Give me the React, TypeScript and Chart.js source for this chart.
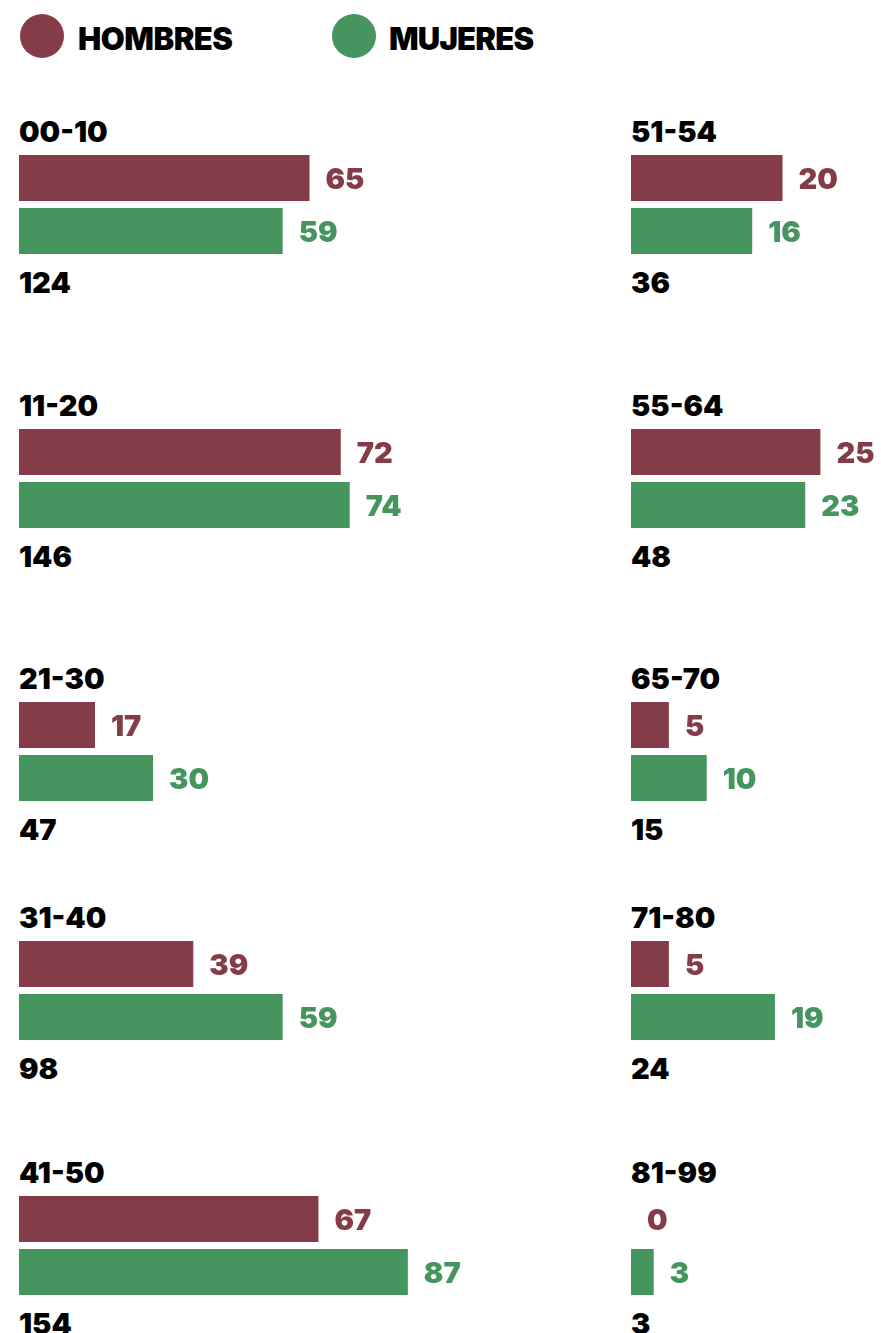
import React, { useEffect, useRef } from "react";
import { Chart, registerables } from "chart.js";

Chart.register(...registerables);

// ---------- data ----------
const leftGroups = ["00-10", "11-20", "21-30", "31-40", "41-50"];
const rightGroups = ["51-54", "55-64", "65-70", "71-80", "81-99"];
const hombresLeft = [65, 72, 17, 39, 67];
const mujeresLeft = [59, 74, 30, 59, 87];
const totalsLeft = [124, 146, 47, 98, 154];
const hombresRight = [20, 25, 5, 5, 0];
const mujeresRight = [16, 23, 10, 19, 3];
const totalsRight = [36, 48, 15, 24, 3];
const seriesNames = ["HOMBRES", "MUJERES"];

// ---------- style / layout ----------
const MAROON = "#843d48";
const GREEN = "#46955f";
const FONT = "Inter, Lato, 'Noto Sans', sans-serif";
const rowBarTop = [155, 429, 702, 941, 1196];
const LEFT_X = 19;
const RIGHT_X = 631;
const LEFT_W = 581;
const RIGHT_W = 250;
const LEFT_MAX = 130;
const RIGHT_MAX = 33;
const CANVAS_H = 107;
const TEXT_SIZE = 29;

const valueLabelPlugin = {
  id: "valueLabels",
  afterDatasetsDraw(chart: any) {
    const ctx = chart.ctx;
    const ds = chart.data.datasets[0];
    const meta = chart.getDatasetMeta(0);
    meta.data.forEach((el: any, i: number) => {
      ctx.save();
      ctx.font = `900 ${TEXT_SIZE}px ${FONT}`;
      ctx.fillStyle = ds.backgroundColor[i];
      ctx.textAlign = "left";
      ctx.textBaseline = "alphabetic";
      ctx.fillText(String(ds.data[i]), el.x + 16, el.y + 11);
      ctx.restore();
    });
  },
};

function GroupBars(props: { h: number; m: number; max: number; width: number; left: number; top: number }) {
  const { h, m, max, width, left, top } = props;
  const ref = useRef<HTMLCanvasElement | null>(null);
  useEffect(() => {
    if (!ref.current) return;
    const chart = new Chart(ref.current, {
      type: "bar",
      data: {
        labels: seriesNames,
        datasets: [
          {
            data: [h, m],
            backgroundColor: [MAROON, GREEN],
            barThickness: 46,
            borderWidth: 0,
            inflateAmount: 0,
          },
        ],
      },
      options: {
        indexAxis: "y",
        responsive: false,
        animation: false,
        events: [],
        layout: { padding: { top: 0.5, bottom: 0.5, left: 0, right: 0 } },
        plugins: { legend: { display: false }, tooltip: { enabled: false } },
        scales: {
          x: { display: false, min: 0, max },
          y: { display: false },
        },
      },
      plugins: [valueLabelPlugin],
    } as any);
    return () => chart.destroy();
  }, [h, m, max, width]);
  return (
    <canvas
      ref={ref}
      width={width}
      height={CANVAS_H}
      style={{ position: "absolute", left, top, width, height: CANVAS_H }}
    />
  );
}

const textStyle = (left: number, top: number, size = TEXT_SIZE, spacing = 0): React.CSSProperties => ({
  position: "absolute",
  left,
  top,
  fontFamily: FONT,
  fontWeight: 900,
  fontSize: size,
  lineHeight: `${size}px`,
  letterSpacing: spacing,
  color: "#000",
  whiteSpace: "nowrap",
});

function Column(props: { x: number; w: number; max: number; groups: string[]; hom: number[]; muj: number[]; tot: number[] }) {
  const { x, w, max, groups, hom, muj, tot } = props;
  return (
    <>
      {groups.map((g, i) => (
        <React.Fragment key={g}>
          <div style={textStyle(x, rowBarTop[i] - 38)}>{g}</div>
          <GroupBars h={hom[i]} m={muj[i]} max={max} width={w} left={x} top={rowBarTop[i] - 4} />
          <div style={textStyle(x, rowBarTop[i] + 113)}>{tot[i]}</div>
        </React.Fragment>
      ))}
    </>
  );
}

export default function App() {
  return (
    <div
      style={{
        position: "absolute",
        left: 0,
        top: 0,
        width: 881,
        height: 1333,
        background: "#fff",
        overflow: "hidden",
      }}
    >
      <div style={{ position: "absolute", left: 20, top: 14, width: 44, height: 44, borderRadius: "50%", background: MAROON }} />
      <div style={textStyle(78, 23, 31, -0.5)}>{seriesNames[0]}</div>
      <div style={{ position: "absolute", left: 332, top: 14, width: 44, height: 44, borderRadius: "50%", background: GREEN }} />
      <div style={textStyle(389, 23, 31, -0.8)}>{seriesNames[1]}</div>

      <Column x={LEFT_X} w={LEFT_W} max={LEFT_MAX} groups={leftGroups} hom={hombresLeft} muj={mujeresLeft} tot={totalsLeft} />
      <Column x={RIGHT_X} w={RIGHT_W} max={RIGHT_MAX} groups={rightGroups} hom={hombresRight} muj={mujeresRight} tot={totalsRight} />
    </div>
  );
}
